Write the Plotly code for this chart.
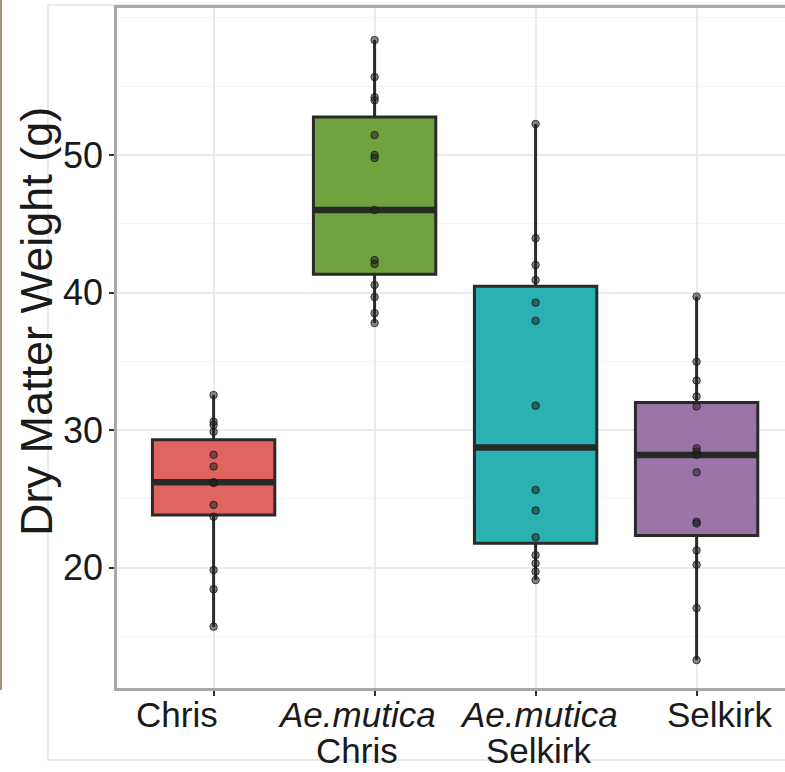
import plotly.graph_objects as go

# ---------------- data ----------------
groups = ["Chris", "Ae.mutica Chris", "Ae.mutica Selkirk", "Selkirk"]
tick_line1 = ["Chris", "<i>Ae.mutica</i>", "<i>Ae.mutica</i>", "Selkirk"]
tick_line2 = ["", "Chris", "Selkirk", ""]
positions = [1, 2, 3, 4]

lower_whisker = [15.7, 37.78, 19.1, 13.27]
q1_vals = [23.82, 41.32, 21.76, 22.33]
median_vals = [26.2, 46.0, 28.73, 28.18]
q3_vals = [29.3, 52.76, 40.45, 32.0]
upper_whisker = [32.55, 58.36, 52.25, 39.7]

points_chris = [32.55, 30.6, 30.36, 29.87, 28.2, 27.35, 26.2, 26.15, 24.55, 23.7, 19.82, 18.42, 15.7]
points_aec = [58.36, 55.67, 54.2, 53.98, 51.45, 50.0, 49.78, 46.0, 42.36, 42.07, 40.55, 39.67, 38.5, 37.78]
points_aes = [52.25, 43.94, 42.0, 40.91, 39.26, 37.95, 31.77, 25.64, 24.14, 22.2, 20.9, 20.3, 19.7, 19.09]
points_selkirk = [39.7, 34.97, 33.6, 32.44, 31.71, 28.67, 28.43, 28.2, 26.92, 23.33, 23.2, 21.24, 20.2, 17.05, 13.27]
all_points = [points_chris, points_aec, points_aes, points_selkirk]

fill_colors = ["#E1655F", "#6FA33F", "#2BB1B2", "#9B74A8"]

y_ticks = [20, 30, 40, 50]
y_title = "Dry Matter Weight (g)"

# ---------------- figure ----------------
W, H = 785, 772
# target plot area in window pixels: x 117..785, y 8..688
PL, PT, PB = 117, 8, 688
L, T, B, R = PL, PT, H - PB, 0
box_w = 0.76
FONT = "Liberation Sans, Arial, Helvetica, sans-serif"
# category labels in the reference sit spread out, not centred on the ticks
label_centre_px = [177, 357, 539, 720]

fig = go.Figure()

for i, g in enumerate(groups):
    fig.add_trace(go.Box(
        x=[positions[i]], q1=[q1_vals[i]], median=[median_vals[i]], q3=[q3_vals[i]],
        lowerfence=[lower_whisker[i]], upperfence=[upper_whisker[i]],
        width=box_w, boxpoints=False, fillcolor=fill_colors[i],
        line=dict(color="#2a2a2a", width=3), whiskerwidth=0,
        name=g, showlegend=False, hoverinfo="skip"))

# thick median bars
mx, my = [], []
for i in range(len(groups)):
    mx += [positions[i] - box_w / 2, positions[i] + box_w / 2, None]
    my += [median_vals[i], median_vals[i], None]
fig.add_trace(go.Scatter(x=mx, y=my, mode="lines",
                         line=dict(color="#262a26", width=6.5),
                         showlegend=False, hoverinfo="skip"))

# data points
for i, pts in enumerate(all_points):
    fig.add_trace(go.Scatter(
        x=[positions[i]] * len(pts), y=pts, mode="markers",
        marker=dict(size=7.5, color="rgba(35,35,35,0.55)",
                    line=dict(color="rgba(20,20,20,0.75)", width=1)),
        showlegend=False, hoverinfo="skip"))

plot_w = W - L - R
plot_h = H - T - B
px_per_unit_x = 161.0
x_lo = 0.4
x_hi = x_lo + plot_w / px_per_unit_x

# y scale: 50 -> y=155px, 13.75 px per unit
px_per_unit_y = 13.75
y_top = 50 + (155 - PT) / px_per_unit_y
y_bot = 50 - (PB - 155) / px_per_unit_y

fig.update_layout(
    width=W, height=H,
    margin=dict(l=L, r=R, t=T, b=B, pad=0),
    paper_bgcolor="white", plot_bgcolor="white",
    font=dict(family=FONT, color="#1a1a1a"),
    xaxis=dict(range=[x_lo, x_hi], tickvals=positions, showticklabels=False,
               showgrid=True, gridcolor="#EBEBEB", gridwidth=1.5,
               showline=True, linecolor="#A8A8A8", linewidth=2.5, mirror=True,
               ticks="outside", ticklen=5, tickwidth=1.5, tickcolor="#333333",
               zeroline=False, fixedrange=True),
    yaxis=dict(range=[y_bot, y_top], tickvals=y_ticks,
               tickfont=dict(size=36, color="#1a1a1a"), ticklabelstandoff=-1,
               showgrid=True, gridcolor="#EBEBEB", gridwidth=1.5,
               minor=dict(dtick=5, tick0=0, showgrid=True, gridcolor="#F4F4F4", gridwidth=1),
               showline=True, linecolor="#A8A8A8", linewidth=2.5,
               ticks="outside", ticklen=5, tickwidth=1.5, tickcolor="#333333",
               zeroline=False, fixedrange=True),
)

def px_to_paper_x(px):
    return (px - PL) / plot_w

def px_to_paper_y(py):
    return (PB - py) / plot_h

annotations = []
for i in range(len(groups)):
    annotations.append(dict(x=px_to_paper_x(label_centre_px[i]), xref="paper",
                            y=px_to_paper_y(714), yref="paper", height=34, valign="middle",
                            text=tick_line1[i], showarrow=False, xanchor="center", yanchor="middle",
                            font=dict(size=35, family=FONT, color="#1a1a1a")))
    if tick_line2[i]:
        annotations.append(dict(x=px_to_paper_x(label_centre_px[i]), xref="paper",
                                y=px_to_paper_y(750), yref="paper", height=34, valign="middle",
                                text=tick_line2[i], showarrow=False, xanchor="center", yanchor="middle",
                                font=dict(size=35, family=FONT, color="#1a1a1a")))
annotations.append(dict(x=px_to_paper_x(36), xref="paper", y=px_to_paper_y(322), yref="paper",
                        text=y_title, textangle=-90, showarrow=False,
                        xanchor="center", yanchor="middle",
                        font=dict(size=45, family=FONT, color="#1a1a1a")))
fig.update_layout(annotations=annotations)

# faint outer frame and left edge artifact
fig.add_shape(type="rect", xref="paper", yref="paper",
              x0=px_to_paper_x(48), x1=px_to_paper_x(800),
              y0=px_to_paper_y(760), y1=px_to_paper_y(5),
              line=dict(color="#E3E3E3", width=1.5), layer="below")
fig.add_shape(type="line", xref="paper", yref="paper",
              x0=px_to_paper_x(1), x1=px_to_paper_x(1),
              y0=px_to_paper_y(0), y1=px_to_paper_y(690),
              line=dict(color="#A39385", width=2))

fig.write_html("out.html",
               config={"displayModeBar": False},
               post_script="document.body.style.margin='0';document.body.style.overflow='hidden';")
